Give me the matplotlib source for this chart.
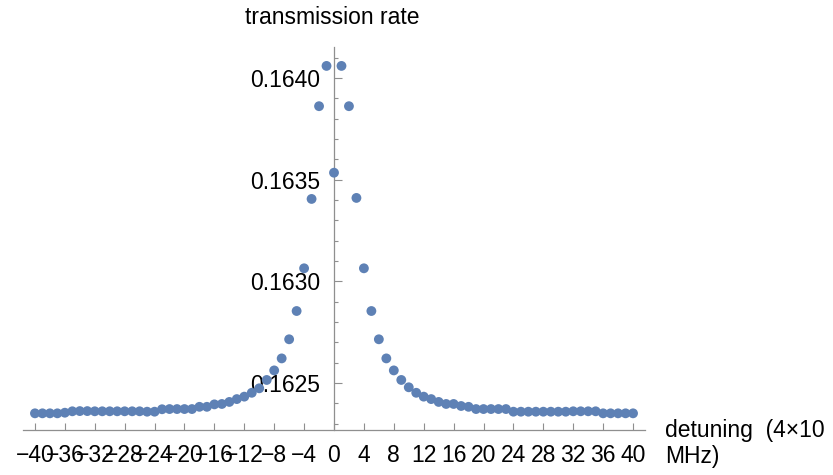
import matplotlib
matplotlib.use("Agg")
import matplotlib.pyplot as plt
from matplotlib.ticker import FixedLocator, MultipleLocator, FormatStrFormatter

plt.rcParams["font.family"] = ["Liberation Sans", "DejaVu Sans"]

# detuning in units of 4x10 MHz, one point per step
detuning = list(range(-40, 41))

# transmission rate, left to right
rate_left = [
    0.162351, 0.162351, 0.162351, 0.162351, 0.162354,  # -40 .. -36
    0.162361, 0.162362, 0.162362, 0.162361, 0.162361,  # -35 .. -31
    0.162361, 0.162361, 0.162361, 0.162361, 0.162361,  # -30 .. -26
    0.162359, 0.162359, 0.162371, 0.162372, 0.162372,  # -25 .. -21
    0.162372, 0.162372, 0.162383, 0.162383, 0.162395,  # -20 .. -16
    0.162397, 0.162407, 0.162421, 0.162433, 0.162452,  # -15 .. -11
    0.162474, 0.162515, 0.162562, 0.162621, 0.162715,  # -10 .. -6
    0.162854, 0.163064, 0.163405, 0.163861, 0.164059,  # -5 .. -1
]
rate_center = [0.163534]  # 0
rate_right = [
    0.164059, 0.163861, 0.163410, 0.163064, 0.162854,  # 1 .. 5
    0.162715, 0.162621, 0.162562, 0.162515, 0.162479,  # 6 .. 10
    0.162452, 0.162433, 0.162421, 0.162407, 0.162397,  # 11 .. 15
    0.162397, 0.162387, 0.162383, 0.162372, 0.162372,  # 16 .. 20
    0.162372, 0.162372, 0.162372, 0.162359, 0.162359,  # 21 .. 25
    0.162359, 0.162359, 0.162359, 0.162359, 0.162359,  # 26 .. 30
    0.162359, 0.162361, 0.162361, 0.162361, 0.162361,  # 31 .. 35
    0.162351, 0.162351, 0.162351, 0.162351, 0.162351,  # 36 .. 40
]
rate = rate_left + rate_center + rate_right

x_ticks = list(range(-40, 41, 4))
y_ticks = [0.1625, 0.1630, 0.1635, 0.1640]

axis_gray = "#8f8f8f"
dot_blue = "#5e81b5"
fs = 16.5

fig = plt.figure(figsize=(8.33, 4.75), dpi=100)
ax = fig.add_axes([23 / 833, 45 / 475, 622 / 833, 383 / 475])

ax.scatter(detuning, rate, s=50, color=dot_blue, edgecolors="none", zorder=3,
           clip_on=False)

ax.set_xlim(-41.6, 41.6)
ax.set_ylim(0.162269, 0.164152)

# Mathematica style axes: y axis through x=0, x axis at the bottom
for side in ("top", "right"):
    ax.spines[side].set_visible(False)
ax.spines["left"].set_position(("data", 0))
for side in ("left", "bottom"):
    ax.spines[side].set_color(axis_gray)
    ax.spines[side].set_linewidth(0.9)

ax.xaxis.set_major_locator(FixedLocator(x_ticks))
ax.yaxis.set_major_locator(FixedLocator(y_ticks))
ax.yaxis.set_minor_locator(MultipleLocator(0.0001))
ax.yaxis.set_major_formatter(FormatStrFormatter("%.4f"))

ax.tick_params(axis="x", which="major", direction="in", length=5, width=0.8,
               color=axis_gray, labelsize=fs, pad=10)
ax.tick_params(axis="y", which="major", direction="in", length=6, width=0.8,
               color=axis_gray, labelsize=fs, pad=10)
ax.tick_params(axis="y", which="minor", direction="in", length=3, width=0.8,
               color=axis_gray)

fig.text(332 / 833, 1 - 18 / 475, "transmission rate", fontsize=fs,
         ha="center", va="center")
fig.text(665 / 833, 1 - 430 / 475, "detuning  (4\u00d710", fontsize=fs,
         ha="left", va="center")
fig.text(665 / 833, 1 - 456 / 475, "MHz)", fontsize=fs,
         ha="left", va="center")

fig.savefig("out.png", dpi=100)
